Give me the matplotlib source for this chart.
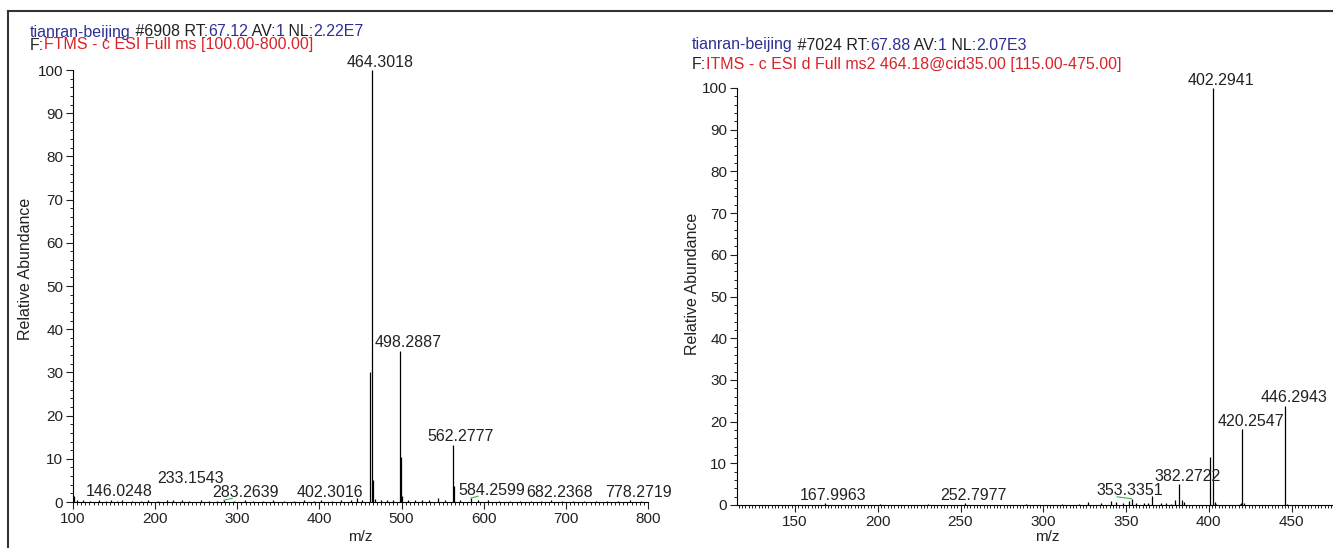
import matplotlib
matplotlib.use('Agg')
import matplotlib.pyplot as plt
from matplotlib.lines import Line2D
from matplotlib.ticker import MultipleLocator

plt.rcParams['font.family'] = ['Liberation Sans', 'DejaVu Sans']

BLUE = '#2e3192'
RED = '#d9232a'
BLACK = '#222222'
GREEN = '#3cb44b'

# full scan (MS1)
ms1_mz = [101.0, 105.2, 112.4, 120.3, 131.6, 139.8, 146.0248, 153.1, 160.2, 171.5, 182.3, 191.0,
          203.4, 214.2, 221.6, 233.1543, 241.8, 255.3, 266.1, 274.9, 283.2639, 296.4, 309.2, 318.7,
          331.5, 344.0, 357.3, 368.8, 381.2, 393.6, 402.3016, 414.7, 426.2, 437.9, 446.3, 452.1,
          461.3, 464.3018, 465.3, 467.2, 474.8, 482.6, 490.1, 498.2887, 499.29, 500.3, 507.8, 516.4,
          524.9, 533.2, 544.3, 552.6, 562.2777, 563.28, 571.4, 584.2599, 593.0, 605.6, 618.2, 631.7,
          644.3, 657.5, 669.8, 682.2368, 695.1, 708.4, 721.9, 736.3, 749.6, 763.2, 778.2719, 791.4]
ms1_int = [1.4, 0.5, 0.4, 0.3, 0.4, 0.3, 0.5, 0.3, 0.4, 0.3, 0.3, 0.4,
           0.3, 0.4, 0.5, 0.5, 0.3, 0.5, 0.3, 0.3, 0.4, 0.3, 0.4, 0.3,
           0.3, 0.4, 0.3, 0.3, 0.4, 0.3, 0.4, 0.3, 0.4, 0.5, 0.9, 0.5,
           30.0, 100.0, 5.2, 0.8, 0.5, 0.4, 0.5, 35.0, 10.5, 1.3, 0.5, 0.4,
           0.5, 0.4, 1.0, 0.5, 13.3, 3.7, 0.4, 0.9, 0.4, 0.4, 0.3, 0.3,
           0.3, 0.3, 0.3, 0.4, 0.3, 0.3, 0.3, 0.3, 0.3, 0.3, 0.4, 0.3]
ms1_labels = [146.0248, 233.1543, 283.2639, 402.3016, 464.3018, 498.2887,
              562.2777, 584.2599, 682.2368, 778.2719]

# MS2 of 464.18
ms2_mz = [167.9963, 201.5, 230.4, 252.7977, 289.6, 311.2, 321.8, 327.2, 335.1, 341.0, 344.2,
          348.1, 352.0, 353.3351, 356.2, 361.1, 363.4, 365.8, 371.2, 374.1, 377.3, 379.3,
          382.2722, 384.0, 385.2, 400.7, 402.2941, 403.5, 404.6, 418.6, 419.4, 420.2547,
          421.3, 446.2943, 447.3]
ms2_int = [0.4, 0.2, 0.2, 0.4, 0.2, 0.2, 0.3, 0.8, 0.5, 0.9, 0.6,
           0.4, 1.0, 1.5, 0.4, 0.4, 0.5, 2.2, 0.5, 0.5, 0.3, 1.2,
           5.0, 1.3, 0.6, 11.6, 100.0, 0.8, 0.3, 0.3, 0.4, 18.2,
           0.4, 23.8, 0.3]
ms2_labels = [167.9963, 252.7977, 353.3351, 382.2722, 402.2941, 420.2547, 446.2943]

# label layout tweaks (points): dx, dy, connector
ms1_shift = {233.1543: (6, 12, False), 283.2639: (16, 2.5, True),
             584.2599: (15, 2.5, True)}
ms2_shift = {353.3351: (-1, 2.5, True)}

fig = plt.figure(figsize=(13.33, 5.48), dpi=100)
W, H = 1333.0, 548.0

# outer frame (only top and left edges are visible)
fig.add_artist(Line2D([8 / W, 8 / W], [0, 1 - 11 / H], color='#333333', lw=1.5))
fig.add_artist(Line2D([8 / W, 1], [1 - 11 / H, 1 - 11 / H], color='#333333', lw=1.5))


def header(x_px, y_px, parts):
    fig.canvas.draw()
    r = fig.canvas.get_renderer()
    x = x_px / W
    for s, c in parts:
        t = fig.text(x, 1 - y_px / H, s, color=c, fontsize=11.5, va='center', ha='left')
        x += t.get_window_extent(r).width / W


def spectrum(ax, mz, inten, labels, shifts, xlim, major, minor):
    ax.vlines(mz, 0, inten, color='black', lw=0.9)
    for lab in labels:
        i = min(range(len(mz)), key=lambda k: abs(mz[k] - lab))
        dx, dy, conn = shifts.get(lab, (6, 2.5, False))
        kw = {}
        if conn:
            kw['arrowprops'] = dict(arrowstyle='-', color=GREEN, lw=0.8,
                                    shrinkA=0, shrinkB=0, relpos=(0.3, 0.1))
        ax.annotate(f'{lab:.4f}', xy=(mz[i], inten[i]), xytext=(dx, dy),
                    textcoords='offset points', ha='center', va='baseline',
                    fontsize=11.5, color=BLACK, **kw)
    ax.set_xlim(*xlim)
    ax.set_ylim(0, 100)
    for s in ['top', 'right']:
        ax.spines[s].set_visible(False)
    for s in ['left', 'bottom']:
        ax.spines[s].set_linewidth(0.8)
    ax.xaxis.set_major_locator(MultipleLocator(major))
    ax.xaxis.set_minor_locator(MultipleLocator(minor))
    ax.yaxis.set_major_locator(MultipleLocator(10))
    ax.yaxis.set_minor_locator(MultipleLocator(2))
    ax.tick_params(which='major', direction='out', length=5, width=0.8,
                   labelsize=11, pad=2, colors=BLACK)
    ax.tick_params(which='minor', direction='out', length=2.5, width=0.6)
    ax.set_ylabel('Relative Abundance', fontsize=11.5, color=BLACK)
    ax.set_xlabel('m/z', fontsize=11, color=BLACK)
    ax.xaxis.label.set_va('center')
    ax.yaxis.label.set_va('center')


ax1 = fig.add_axes([73 / W, 46 / H, 575 / W, 432 / H])
spectrum(ax1, ms1_mz, ms1_int, ms1_labels, ms1_shift, (100, 800), 100, 5)
ax1.yaxis.set_label_coords(-0.083, 0.54)
ax1.xaxis.set_label_coords(0.5, -0.081)

ax2 = fig.add_axes([737 / W, 43 / H, 596 / W, 417 / H])
spectrum(ax2, ms2_mz, ms2_int, ms2_labels, ms2_shift, (115, 475), 50, 2)
ax2.yaxis.set_label_coords(-0.074, 0.53)
ax2.xaxis.set_label_coords(0.52, -0.077)

header(30, 32, [('tianran-beijing', BLUE), (' #6908 RT:', BLACK), ('67.12', BLUE),
                (' AV:', BLACK), ('1', BLUE), (' NL:', BLACK), ('2.22E7', BLUE)])
header(30, 45, [('F:', BLACK), ('FTMS - c ESI Full ms [100.00-800.00]', RED)])
header(692, 45, [('tianran-beijing', BLUE), (' #7024 RT:', BLACK), ('67.88', BLUE),
                 (' AV:', BLACK), ('1', BLUE), (' NL:', BLACK), ('2.07E3', BLUE)])
header(692, 65, [('F:', BLACK), ('ITMS - c ESI d Full ms2 464.18@cid35.00 [115.00-475.00]', RED)])

fig.savefig('out.png', dpi=100)
